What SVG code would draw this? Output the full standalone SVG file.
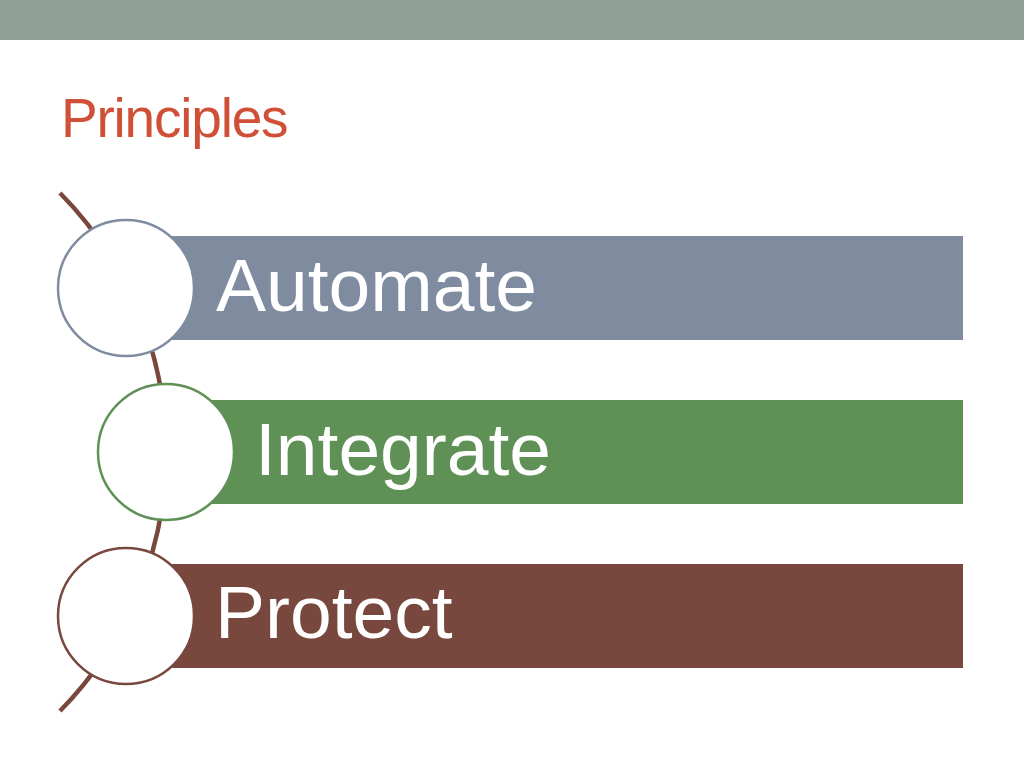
<svg xmlns="http://www.w3.org/2000/svg" width="1024" height="768" viewBox="0 0 1024 768">
  <style>
    .lbl { font-family: "Liberation Sans", Arial, sans-serif; font-size: 75px; fill: #ffffff; }
    .title { font-family: "Liberation Sans", Arial, sans-serif; font-size: 55px; fill: #cf4f37; letter-spacing: -1.2px; }
    .ring { fill: #ffffff; stroke-width: 2.5; }
  </style>
  <rect x="0" y="0" width="1024" height="768" fill="#ffffff"/>
  <rect id="topbar" x="0" y="0" width="1024" height="40" fill="#8fa096"/>
  <text id="title" class="title" x="61" y="137">Principles</text>
  <g id="connectors">
    <path d="M 60 193 A 369 369 0 0 1 60 711" fill="none" stroke="#7a473d" stroke-width="4.5"/>
  </g>
  <g id="node-automate">
    <rect x="126" y="236" width="837" height="104" fill="#7f8ca0"/>
    <circle class="ring" cx="126" cy="288" r="68" stroke="#7f8ca0"/>
    <text class="lbl" x="216" y="311">Automate</text>
  </g>
  <g id="node-integrate">
    <rect x="166" y="400" width="797" height="104" fill="#5f9157"/>
    <circle class="ring" cx="166" cy="452" r="68" stroke="#5f9157"/>
    <text class="lbl" x="255" y="475">Integrate</text>
  </g>
  <g id="node-protect">
    <rect x="126" y="564" width="837" height="104" fill="#78483e"/>
    <circle class="ring" cx="126" cy="616" r="68" stroke="#78483e"/>
    <text class="lbl" x="215" y="638">Protect</text>
  </g>
</svg>
